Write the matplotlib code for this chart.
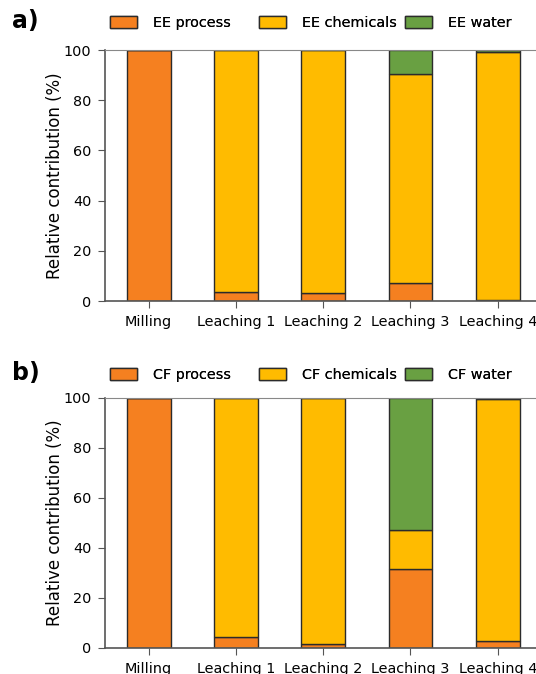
import numpy as np
import matplotlib.pyplot as plt

stages = ['Milling', 'Leaching 1', 'Leaching 2', 'Leaching 3', 'Leaching 4']

# relative contributions (%) for energy (EE) and carbon footprint (CF)
ee_process = [100.0, 3.5, 3.0, 7.2, 0.3]
ee_chemicals = [0.0, 96.5, 97.0, 83.2, 99.0]
ee_water = [0.0, 0.0, 0.0, 9.6, 0.7]

cf_process = [100.0, 4.2, 1.4, 31.7, 2.9]
cf_chemicals = [0.0, 95.8, 98.6, 15.6, 96.6]
cf_water = [0.0, 0.0, 0.0, 52.7, 0.5]

c_proc = '#F58020'
c_chem = '#FFBB00'
c_water = '#69A042'

fig = plt.figure(figsize=(5.36, 6.74), dpi=100)
ax1 = fig.add_axes([0.196, 0.5534, 0.814, 0.3724])
ax2 = fig.add_axes([0.196, 0.0386, 0.814, 0.371])


def panel(ax, proc, chem, water, tag, letter, ly):
    x = np.arange(len(stages))
    proc = np.array(proc)
    chem = np.array(chem)
    water = np.array(water)
    kw = dict(width=0.5, edgecolor='#2b2b2b', linewidth=1.0)
    ax.bar(x, proc, color=c_proc, label=tag + ' process', **kw)
    ax.bar(x, chem, bottom=proc, color=c_chem, label=tag + ' chemicals', **kw)
    ax.bar(x, water, bottom=proc + chem, color=c_water, label=tag + ' water', **kw)

    ax.set_xlim(-0.5, 4.5)
    ax.set_ylim(0, 100)
    ax.set_xticks(x)
    ax.set_xticklabels(stages)
    ax.set_yticks([0, 20, 40, 60, 80, 100])
    ax.tick_params(labelsize=10.4, length=5, pad=5, color='#555555', direction='out')
    ax.set_ylabel('Relative contribution (%)', fontsize=12, labelpad=0)
    for s in ['left', 'bottom']:
        ax.spines[s].set_color('#555555')
        ax.spines[s].set_linewidth(1.2)
    ax.spines['top'].set_color('#888888')
    ax.spines['right'].set_visible(False)

    # one legend per entry so each sits in its own slot above the axes
    handles, labels = ax.get_legend_handles_labels()
    for h, l, fx in zip(handles, labels, [110, 259, 405]):
        leg = fig.legend([h], [l], loc='center left', bbox_to_anchor=(fx / 536, ly),
                         frameon=False, fontsize=10.4, handlelength=1.9,
                         handleheight=0.95, handletextpad=1.1, borderaxespad=0,
                         borderpad=0)
        fig.add_artist(leg)
    fig.text(12 / 536, ly + 0.003, letter, fontsize=17, fontweight='bold',
             va='center', ha='left')


panel(ax1, ee_process, ee_chemicals, ee_water, 'EE', 'a)', 1 - 23 / 674)
panel(ax2, cf_process, cf_chemicals, cf_water, 'CF', 'b)', 1 - 375 / 674)

fig.savefig('out.png', dpi=100)
